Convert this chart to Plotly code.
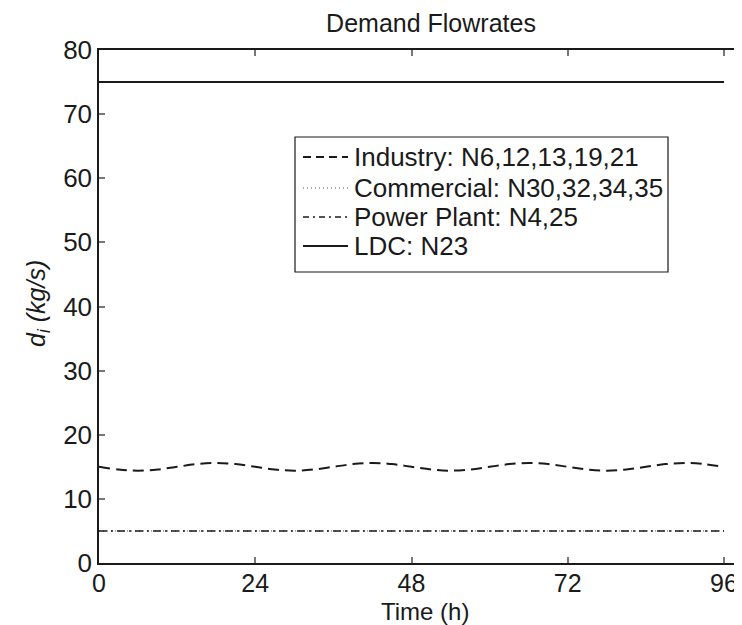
import plotly.graph_objects as go

# ---- data ----
industry_t = [0, 3, 6, 9, 12, 15, 18, 21, 24, 27, 30, 33, 36, 39, 42, 45, 48,
              51, 54, 57, 60, 63, 66, 69, 72, 75, 78, 81, 84, 87, 90, 93, 96]
industry_d = [15.0, 14.58, 14.4, 14.58, 15.0, 15.42, 15.6, 15.42,
              15.0, 14.58, 14.4, 14.58, 15.0, 15.42, 15.6, 15.42,
              15.0, 14.58, 14.4, 14.58, 15.0, 15.42, 15.6, 15.42,
              15.0, 14.58, 14.4, 14.58, 15.0, 15.42, 15.6, 15.42, 15.0]
const_t = [0, 96]
commercial_d = [5, 5]
power_d = [5, 5]
ldc_d = [75, 75]

x_ticks = [0, 24, 48, 72, 96]
y_ticks = [0, 10, 20, 30, 40, 50, 60, 70, 80]

names = ["Industry: N6,12,13,19,21", "Commercial: N30,32,34,35",
         "Power Plant: N4,25", "LDC: N23"]

ink = "#1a1a1a"
font = "Liberation Sans, Arial, Helvetica, sans-serif"

styles = [
    dict(color=ink, width=2, dash="11px,6px"),
    dict(color="#555555", width=1, dash="1px,3px"),
    dict(color=ink, width=1.5, dash="8px,4px,2px,4px"),
    dict(color=ink, width=2, dash="solid"),
]
legend_styles = [
    dict(color=ink, width=2, dash="8px,5px"),
    dict(color="#555555", width=1, dash="1px,3px"),
    dict(color=ink, width=1.5, dash="6px,4px,2px,4px"),
    dict(color=ink, width=2, dash="solid"),
]

fig = go.Figure()
fig.add_trace(go.Scatter(x=industry_t, y=industry_d, mode="lines", name=names[0],
                         line=dict(**styles[0], shape="spline")))
fig.add_trace(go.Scatter(x=const_t, y=commercial_d, mode="lines", name=names[1],
                         line=styles[1]))
fig.add_trace(go.Scatter(x=const_t, y=power_d, mode="lines", name=names[2],
                         line=styles[2]))
fig.add_trace(go.Scatter(x=const_t, y=ldc_d, mode="lines", name=names[3],
                         line=styles[3]))

# page body has an 8px margin: figure coords = screen coords - 8
W, H = 734, 617
L, R, T, B = 91, 0, 42, 62
pw = W - L - R
ph = H - T - B
xmax = 96 * pw / (724 - 99)

def px(sx):
    return (sx - 8 - L) / pw

def py(sy):
    return (H - B - (sy - 8)) / ph

# legend drawn as a framed box with line samples and labels
box_l, box_t, box_r, box_b = 295, 137, 668, 272
row_y = [157, 188, 217, 246]
shapes = [dict(type="rect", xref="paper", yref="paper",
               x0=px(box_l), x1=px(box_r), y0=py(box_b), y1=py(box_t),
               line=dict(color=ink, width=1.2), fillcolor="white", layer="above")]
annotations = []
for name, st, ry in zip(names, legend_styles, row_y):
    shapes.append(dict(type="line", xref="paper", yref="paper",
                       x0=px(303), x1=px(348), y0=py(ry), y1=py(ry),
                       line=st, layer="above"))
    annotations.append(dict(text=name, x=px(352), y=py(ry), xref="paper", yref="paper",
                            xanchor="left", yanchor="middle", showarrow=False,
                            font=dict(size=26, color=ink)))

annotations += [
    dict(text="Time (h)", x=px(425), y=py(611), xref="paper", yref="paper",
         xanchor="center", yanchor="middle", showarrow=False,
         font=dict(size=24, color=ink)),
    dict(text="<i>d<sub>i</sub> (kg/s)</i>", x=px(38), y=py(304),
         xref="paper", yref="paper", xanchor="center", yanchor="middle",
         textangle=-90, showarrow=False, font=dict(size=25, color=ink)),
]

fig.update_layout(
    width=W, height=H,
    margin=dict(l=L, r=R, t=T, b=B, pad=0, autoexpand=False),
    paper_bgcolor="white", plot_bgcolor="white",
    font=dict(family=font, size=26, color=ink),
    title=dict(text="Demand Flowrates", x=(431 - 8) / W, xanchor="center",
               xref="container", yref="container",
               y=1 - 15 / H, yanchor="middle", automargin=False,
               font=dict(size=25, color=ink)),
    showlegend=False,
    shapes=shapes,
    annotations=annotations,
)
fig.update_xaxes(range=[0, xmax], tickvals=x_ticks, ticktext=[str(v) for v in x_ticks],
                 showgrid=False, zeroline=False, showline=True, linecolor=ink, linewidth=1.5,
                 mirror="ticks", ticks="inside", ticklen=6, tickcolor="#777777", tickwidth=1.5,
                 tickfont=dict(size=25), automargin=False, ticklabelstandoff=-3)
fig.update_yaxes(range=[0, 80], tickvals=y_ticks, ticktext=[str(v) for v in y_ticks],
                 showgrid=False, zeroline=False, showline=True, linecolor=ink, linewidth=1.5,
                 ticks="inside", ticklen=6, tickcolor="#777777", tickwidth=1.5,
                 tickfont=dict(size=26), automargin=False)

fig.write_html("out.html")
